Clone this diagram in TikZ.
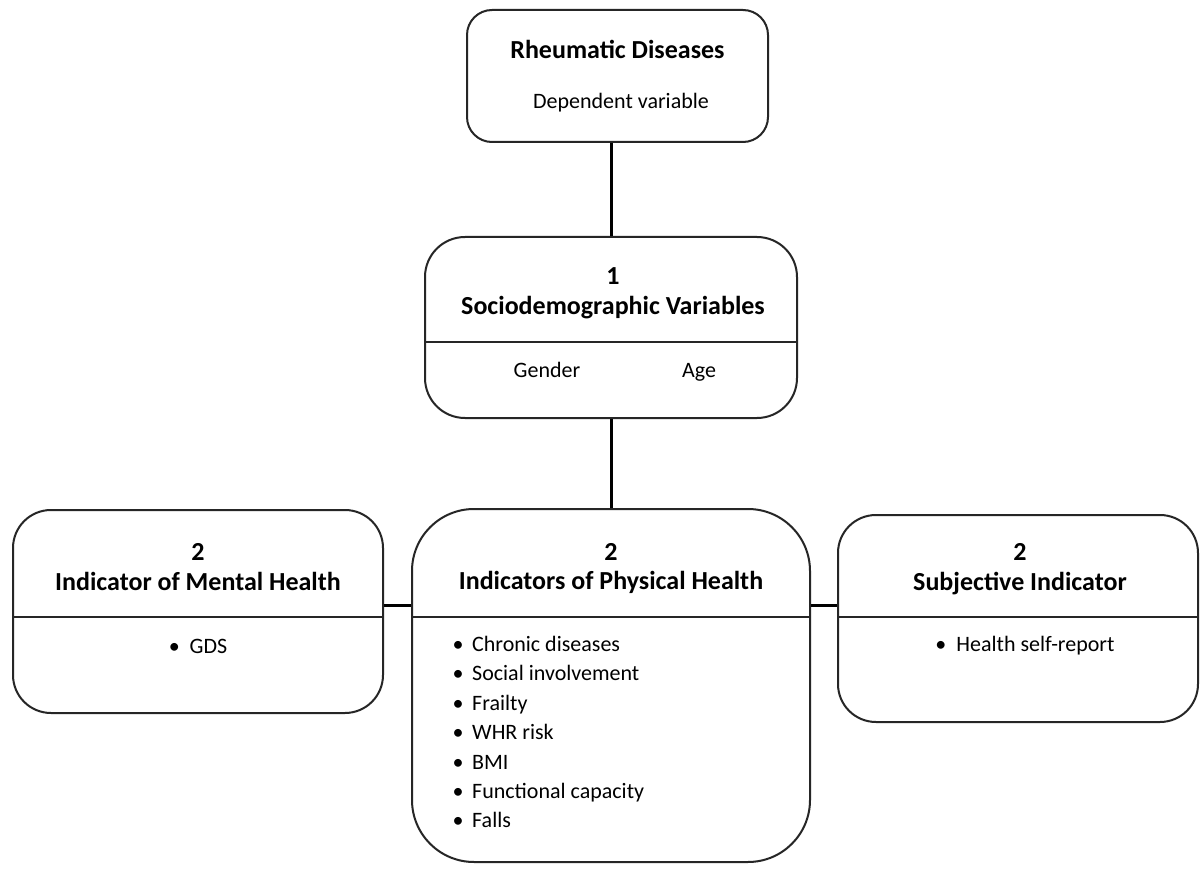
\documentclass[tikz,border=0pt]{standalone}
\usepackage{fontspec}
\setmainfont{Carlito}
\begin{document}
\begin{tikzpicture}[x=1pt,y=-1pt,
  box/.style={draw=black!85, line width=2pt, rectangle, inner sep=0pt},
  conn/.style={draw=black, line width=3pt},
  ttl/.style={font=\bfseries\fontsize{26}{30}\selectfont, anchor=center, inner sep=0pt, text height=18pt, text depth=5pt},
  itm/.style={font=\fontsize{22}{26}\selectfont, anchor=center, inner sep=0pt, text height=15pt, text depth=4pt},
  litm/.style={font=\fontsize{22}{26}\selectfont, anchor=west, inner sep=0pt, text height=15pt, text depth=4pt},
  dot/.style={font=\fontsize{22}{26}\selectfont, anchor=center, inner sep=0pt, text height=15pt, text depth=4pt}]
\useasboundingbox[fill=white] (0,0) rectangle (1203,869);
% boxes
\node[box, rounded corners=25pt, minimum width=301pt, minimum height=132pt] (rd) at (617.5,76) {};
\node[box, rounded corners=40pt, minimum width=372pt, minimum height=181pt] (soc) at (611,327.5) {};
\node[box, rounded corners=38pt, minimum width=370pt, minimum height=203pt] (men) at (198,611.5) {};
\node[box, rounded corners=62pt, minimum width=398pt, minimum height=353pt] (phy) at (611,685.5) {};
\node[box, rounded corners=38pt, minimum width=360pt, minimum height=207pt] (sub) at (1018,618.5) {};
% divider levels
\coordinate (sd) at (0,342);
\coordinate (hd) at (0,617);
\coordinate (hy) at (0,605);
\draw[line width=2pt, black!85] (soc.west |- sd) -- (soc.east |- sd);
\draw[line width=2pt, black!85] (men.west |- hd) -- (men.east |- hd);
\draw[line width=2pt, black!85] (phy.west |- hd) -- (phy.east |- hd);
\draw[line width=2pt, black!85] (sub.west |- hd) -- (sub.east |- hd);
% connectors
\draw[conn] (soc.north |- rd.south) -- (soc.north);
\draw[conn] (soc.south) -- (phy.north);
\draw[conn] (men.east |- hy) -- (phy.west |- hy);
\draw[conn] (phy.east |- hy) -- (sub.west |- hy);
% texts
\node[ttl] (rdt) at (617.5,52) {Rheumatic Diseases};
\node[itm] (rdd) at (621,103) {Dependent variable};
\node[ttl] (s1) at (613,278) {1};
\node[ttl] (s2) at (613,308) {Sociodemographic Variables};
\node[itm] (sg) at (547,372) {Gender};
\node[itm] (sa) at (699,372) {Age};
\node[ttl] (m1) at (198,554) {2};
\node[ttl] (m2) at (198,584) {Indicator of Mental Health};
\node[itm] (mg) at (198,648) {\textbullet\ \ GDS};
\node[ttl] (p1) at (611,554) {2};
\node[ttl] (p2) at (611,583) {Indicators of Physical Health};
\foreach \t [count=\i from 0] in {Chronic diseases,Social involvement,Frailty,WHR risk,BMI,Functional capacity,Falls}{
  \node[dot] (pb\i) at (458,646+29.4*\i) {\textbullet};
  \node[litm] (pt\i) at (472,646+29.4*\i) {\t};
}
\node[ttl] (u1) at (1020,554) {2};
\node[ttl] (u2) at (1020,584) {Subjective Indicator};
\node[itm] (uh) at (1025,646) {\textbullet\ \ Health self-report};
\end{tikzpicture}
\end{document}
